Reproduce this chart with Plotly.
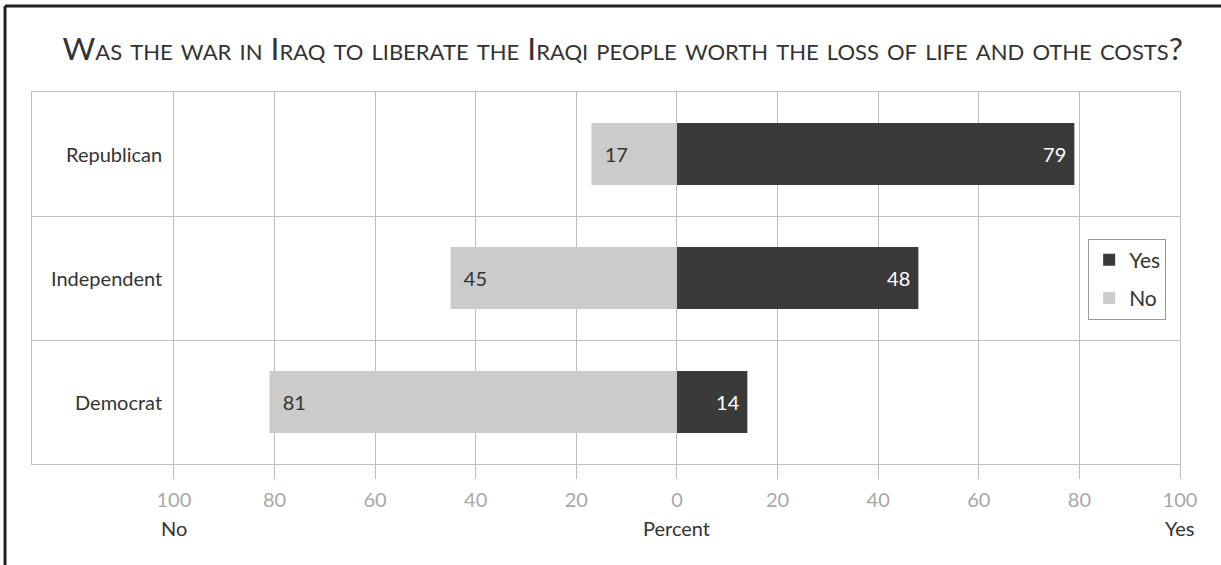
import plotly.graph_objects as go

categories = ["Republican", "Independent", "Democrat"]
yes_values = [79, 48, 14]
no_values = [17, 45, 81]
tick_values = [-100, -80, -60, -40, -20, 0, 20, 40, 60, 80, 100]
tick_labels = ["100", "80", "60", "40", "20", "0", "20", "40", "60", "80", "100"]
axis_words = {-100: "No", 0: "Percent", 100: "Yes"}
title_text = "Was the war in Iraq to liberate the Iraqi people worth the loss of life and othe costs?"

FONT = "Lato"
DARK = "#3a3a3a"
LIGHT = "#cbcbcb"
GRID = "#bdbdbd"
FS = 20
NBSP = "\u00a0"

fig = go.Figure()
fig.add_trace(go.Bar(
    name="Yes", y=categories, x=yes_values, orientation="h", legendgroup="yes",
    marker=dict(color=DARK, line=dict(width=0)),
    text=[str(v) for v in yes_values], texttemplate="%{text}" + NBSP,
    textposition="inside", insidetextanchor="end", constraintext="none",
    textfont=dict(color="white", size=FS, family=FONT),
    width=0.5,
))
fig.add_trace(go.Bar(
    name="No", y=categories, x=[-v for v in no_values], orientation="h", legendgroup="no",
    marker=dict(color=LIGHT, line=dict(width=0)),
    text=[str(v) for v in no_values], texttemplate=NBSP + NBSP + "%{text}",
    textposition="inside", insidetextanchor="end", constraintext="none",
    textfont=dict(color="#333333", size=FS, family=FONT),
    width=0.5,
))

annotations = []
for c in categories:
    annotations.append(dict(x=-102, y=c, xref="x", yref="y", text=c, showarrow=False,
                            xanchor="right", yanchor="middle",
                            font=dict(size=FS, color="#333333", family=FONT)))
for xv, word in axis_words.items():
    annotations.append(dict(x=xv, y=-0.172, xref="x", yref="paper", text=word, showarrow=False,
                            xanchor="center", yanchor="middle",
                            font=dict(size=FS, color="#333333", family=FONT)))

fig.update_layout(
    width=1221, height=565,
    margin=dict(l=32, r=41, t=92, b=101),
    paper_bgcolor="white", plot_bgcolor="white",
    barmode="relative",
    font=dict(family=FONT, color="#333333"),
    title=dict(text=title_text, x=0.51, xref="container", xanchor="center",
               y=1 - 49 / 565, yref="container", yanchor="middle",
               font=dict(size=31.7, color="#333333", family=FONT, variant="small-caps")),
    xaxis=dict(range=[-128.2, 100], tickvals=tick_values, ticktext=tick_labels,
               showgrid=True, gridcolor=GRID, gridwidth=1, zeroline=False,
               showline=True, linecolor=GRID, linewidth=1, mirror=True,
               ticks="outside", ticklen=14, tickcolor=GRID, tickwidth=1,
               ticklabelstandoff=4, layer="above traces",
               tickfont=dict(size=FS, color="#a8a8a8", family=FONT), fixedrange=True),
    yaxis=dict(type="category", categoryorder="array", categoryarray=categories[::-1],
               tickson="boundaries", showgrid=True, gridcolor=GRID, gridwidth=1,
               showline=True, linecolor=GRID, linewidth=1, mirror=True,
               showticklabels=False, ticks="", range=[-0.5, 2.5], fixedrange=True),
    legend=dict(x=0.92, y=0.606, xanchor="left", yanchor="top", traceorder="grouped",
                tracegroupgap=8,
                bgcolor="white", bordercolor="#999999", borderwidth=1,
                font=dict(size=21, color="#333333", family=FONT)),
    annotations=annotations,
    shapes=[
        dict(type="line", xref="paper", yref="paper", x0=-0.0235, x1=1.1, y0=1.231, y1=1.231,
             line=dict(color="#222222", width=3)),
        dict(type="line", xref="paper", yref="paper", x0=-0.0235, x1=-0.0235, y0=-0.5, y1=1.231,
             line=dict(color="#222222", width=3)),
    ],
)

fig.write_html("out.html")
